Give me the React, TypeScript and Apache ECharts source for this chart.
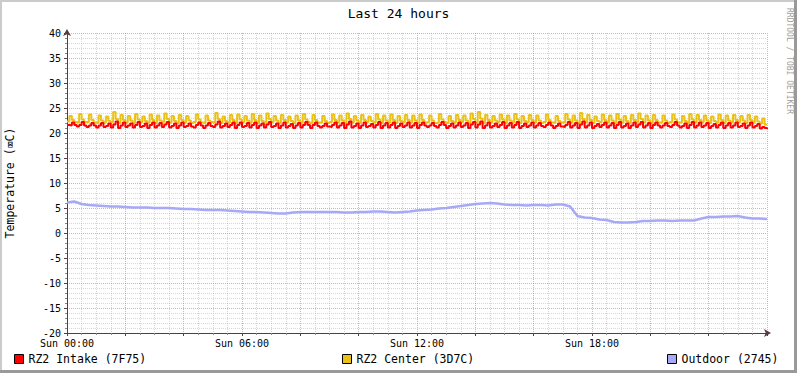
import React, { useEffect, useRef } from "react";
import * as echarts from "echarts";

const TITLE = "Last 24 hours";
const Y_NAME = "Temperature (\u2327C)";
const WATERMARK = "RRDTOOL / TOBI OETIKER";
const SERIES_NAMES = ["RZ2 Intake (7F75)", "RZ2 Center (3D7C)", "Outdoor (2745)"];
const SERIES_COLORS = ["#FF0000", "#EAC117", "#A8A8F8"];
const X_LABEL_HOURS = [0, 6, 12, 18];
const X_TICK_LABELS = ["Sun 00:00", "Sun 06:00", "Sun 12:00", "Sun 18:00"];
const Y_MIN = -20;
const Y_MAX = 40;
const Y_STEP = 5;
const X_MIN = 0;
const X_MAX = 24;
const FAST_STEP_H = 5 / 60;
const OUTDOOR_STEP_H = 0.25;

// RZ2 Intake, 5-minute samples
const intake = [
  21.6,21.5,22.1,21.6, 21.3,21.6,22.2,21.5, 21.2,21.5,22.0,21.5,
  21.1,21.5,22.0, 21.2,21.4,21.9, 21.1,21.7,22.3, 21.0,21.5,22.1,
  21.2,21.5,21.9, 21.1,21.6,22.2, 21.2,21.4,21.9, 21.0,21.6,22.1,
  21.1,21.5,22.0, 21.2,21.7,22.2, 21.1,21.4,21.9, 21.0,21.5,22.1,
  21.2,21.4,21.9,21.3, 21.1,21.6,22.1,21.5, 21.0,21.5,22.0,21.4,
  21.2,21.7,22.3, 21.1,21.4,21.9, 21.2,21.6,22.1, 21.0,21.6,22.1,
  21.2,21.4,22.0, 21.1,21.6,22.1, 21.0,21.5,21.9, 21.1,21.7,22.2,
  21.2,21.4,21.9, 21.0,21.5,22.1, 21.1,21.4,21.8, 21.0,21.5,22.0,
  21.1,21.6,22.2,21.6, 21.0,21.6,22.1,21.4, 21.1,21.4,21.9,21.3,
  21.2,21.6,22.1, 21.1,21.5,22.0, 21.0,21.7,22.3, 21.1,21.4,21.9,
  21.0,21.5,22.1, 21.2,21.4,21.8, 21.1,21.6,22.2, 21.0,21.5,22.0,
  21.1,21.6,22.1, 21.0,21.4,21.9, 21.2,21.5,22.1, 21.1,21.5,22.0,
  21.0,21.6,22.1,21.5, 21.2,21.5,22.0,21.4, 21.1,21.6,22.2,21.6,
  21.0,21.4,21.9, 21.1,21.5,22.1, 21.2,21.5,22.0, 21.0,21.7,22.2,
  21.1,21.7,22.3, 21.0,21.5,22.1, 21.1,21.4,21.9, 21.2,21.6,22.2,
  21.0,21.5,22.0, 21.1,21.6,22.2, 21.0,21.4,21.9, 21.2,21.5,22.1,
  21.1,21.5,22.0,21.4, 21.2,21.6,22.1,21.5, 21.0,21.4,21.9,21.3,
  21.2,21.6,22.2, 21.1,21.5,22.0, 21.0,21.7,22.3, 21.1,21.5,22.1,
  21.0,21.4,21.8, 21.2,21.6,22.1, 21.1,21.5,22.0, 21.0,21.6,22.2,
  21.1,21.4,21.9, 21.0,21.5,22.1, 21.2,21.7,22.2, 21.1,21.5,22.0,
  21.0,21.6,22.1,21.5, 21.1,21.5,22.0,21.4, 21.2,21.6,22.2,21.5,
  21.1,21.4,21.9, 21.0,21.6,22.2, 21.1,21.5,22.1, 21.2,21.5,22.0,
  21.0,21.4,21.8, 21.1,21.6,22.1, 21.0,21.5,22.0, 21.1,21.5,22.1,
  21.2,21.4,21.9, 21.0,21.5,22.1, 21.1,21.4,21.8, 20.9,21.2,21.0,
  20.8,
];

// RZ2 Center, 5-minute samples
const center = [
  22.3,23.4,22.6,22.2, 22.1,23.8,22.7,22.2, 22.2,23.7,22.6,22.1,
  22.0,23.5,22.5, 22.1,23.3,22.4, 22.2,24.2,22.8, 22.0,23.6,22.6,
  22.1,23.4,22.5, 22.0,23.8,22.7, 22.2,23.3,22.4, 22.1,23.7,22.6,
  22.0,23.5,22.5, 22.2,23.9,22.8, 22.1,23.4,22.4, 22.0,23.6,22.6,
  22.1,23.4,22.5,22.0, 22.2,23.7,22.7,22.1, 22.0,23.5,22.5,22.2,
  22.1,24.0,22.8, 22.0,23.3,22.4, 22.1,23.6,22.6, 22.0,23.7,22.7,
  22.2,23.4,22.5, 22.1,23.8,22.6, 22.0,23.5,22.4, 22.1,23.9,22.8,
  22.2,23.4,22.5, 22.0,23.6,22.6, 22.1,23.3,22.4, 22.0,23.5,22.5,
  22.1,23.8,22.7,22.2, 22.0,23.6,22.6,22.1, 22.1,23.4,22.4,22.0,
  22.2,23.7,22.6, 22.1,23.5,22.5, 22.0,23.9,22.8, 22.1,23.4,22.5,
  22.0,23.6,22.6, 22.2,23.3,22.4, 22.1,23.8,22.7, 22.0,23.5,22.5,
  22.1,23.7,22.6, 22.0,23.4,22.4, 22.2,23.6,22.6, 22.1,23.5,22.5,
  22.0,23.7,22.6,22.1, 22.2,23.5,22.5,22.0, 22.1,23.8,22.7,22.2,
  22.0,23.4,22.4, 22.1,23.6,22.6, 22.2,23.5,22.5, 22.0,23.9,22.8,
  22.1,24.2,22.9, 22.0,23.6,22.6, 22.1,23.4,22.5, 22.2,23.7,22.7,
  22.0,23.5,22.5, 22.1,23.8,22.7, 22.0,23.4,22.4, 22.2,23.6,22.6,
  22.1,23.5,22.5,22.0, 22.2,23.7,22.6,22.1, 22.0,23.4,22.4,22.1,
  22.2,23.8,22.7, 22.1,23.5,22.5, 22.0,24.0,22.8, 22.1,23.6,22.6,
  22.0,23.3,22.4, 22.2,23.7,22.6, 22.1,23.5,22.5, 22.0,23.8,22.7,
  22.1,23.4,22.4, 22.0,23.6,22.6, 22.2,23.9,22.8, 22.1,23.5,22.5,
  22.0,23.6,22.6,22.1, 22.1,23.5,22.5,22.0, 22.2,23.7,22.7,22.1,
  22.1,23.4,22.4, 22.0,23.8,22.7, 22.1,23.6,22.6, 22.2,23.5,22.5,
  22.0,23.3,22.4, 22.1,23.7,22.6, 22.0,23.5,22.5, 22.1,23.6,22.6,
  22.2,23.4,22.5, 22.0,23.6,22.6, 22.1,23.3,22.3, 21.9,22.9,21.7,
  21.6,
];

// Outdoor, 15-minute samples
const outdoor = [
  6.1, 6.3, 5.8, 5.6, 5.5, 5.4, 5.3, 5.3, 5.2, 5.1, 5.1, 5.1,
  5.0, 5.0, 5.0, 4.9, 4.8, 4.8, 4.7, 4.6, 4.6, 4.6, 4.5, 4.4,
  4.3, 4.2, 4.2, 4.1, 4.0, 3.9, 3.9, 4.1, 4.2, 4.2, 4.2, 4.2,
  4.2, 4.2, 4.1, 4.1, 4.2, 4.2, 4.3, 4.3, 4.2, 4.1, 4.2, 4.3,
  4.5, 4.6, 4.7, 4.9, 5.0, 5.2, 5.4, 5.6, 5.8, 5.9, 6.0, 5.9,
  5.7, 5.6, 5.6, 5.5, 5.6, 5.6, 5.5, 5.7, 5.7, 5.3, 3.4, 3.1,
  3.0, 2.7, 2.6, 2.2, 2.1, 2.1, 2.2, 2.4, 2.4, 2.5, 2.5, 2.4,
  2.5, 2.5, 2.5, 2.9, 3.2, 3.2, 3.3, 3.3, 3.4, 3.1, 2.9, 2.9,
  2.8,
];

const MONO = '"DejaVu Sans Mono", monospace';

export default function App() {
  const ref = useRef<HTMLDivElement>(null);

  useEffect(() => {
    if (!ref.current) return;
    const chart = echarts.init(ref.current, null, { renderer: "svg" });

    const toPairs = (arr: number[], step: number) => arr.map((v, i) => [i * step, v]);
    const axisColor = "#5a3a3a";

    const xLabel = (v: number) => {
      const idx = X_LABEL_HOURS.indexOf(v);
      return idx >= 0 ? X_TICK_LABELS[idx] : "";
    };

    const legendLefts = [14, 342, 667];

    chart.setOption({
      animation: false,
      backgroundColor: "#FFFFFF",
      title: {
        text: TITLE,
        left: "center",
        top: 7,
        padding: 0,
        textStyle: { fontFamily: MONO, fontSize: 13, fontWeight: "normal", color: "#000" },
      },
      grid: { left: 67, top: 33, width: 700, height: 300, containLabel: false },
      xAxis: {
        type: "value",
        min: X_MIN,
        max: X_MAX,
        interval: 2,
        axisLine: {
          onZero: false,
          lineStyle: { color: axisColor, width: 1 },
          symbol: ["none", "arrow"],
          symbolSize: [6, 7],
          symbolOffset: [0, 4],
        },
        axisTick: { show: true, length: 3, lineStyle: { color: axisColor } },
        minorTick: { show: true, splitNumber: 4, length: 2, lineStyle: { color: "#888" } },
        splitLine: { show: true, lineStyle: { color: "rgba(200,70,70,0.45)", type: [1, 1] } },
        minorSplitLine: { show: true, lineStyle: { color: "rgba(140,140,140,0.35)", type: [1, 1] } },
        axisLabel: {
          formatter: xLabel,
          fontFamily: MONO,
          fontSize: 10,
          lineHeight: 10,
          color: "#000",
          margin: 5,
          showMaxLabel: false,
        },
      },
      yAxis: {
        type: "value",
        min: Y_MIN,
        max: Y_MAX,
        interval: Y_STEP,
        axisLine: {
          show: true,
          onZero: false,
          lineStyle: { color: axisColor, width: 1 },
          symbol: ["none", "arrow"],
          symbolSize: [6, 7],
          symbolOffset: [0, 4],
        },
        axisTick: { show: true, length: 3, lineStyle: { color: axisColor } },
        minorTick: { show: true, splitNumber: 5, length: 2, lineStyle: { color: "#888" } },
        splitLine: { show: true, lineStyle: { color: "rgba(200,70,70,0.45)", type: [1, 1] } },
        minorSplitLine: { show: true, lineStyle: { color: "rgba(140,140,140,0.35)", type: [1, 1] } },
        axisLabel: { fontFamily: MONO, fontSize: 10, lineHeight: 9, color: "#000", margin: 6 },
      },
      legend: SERIES_NAMES.map((n, i) => ({
        data: [n],
        left: legendLefts[i],
        top: 353,
        padding: 0,
        icon: "rect",
        itemWidth: 9,
        itemHeight: 9,
        itemStyle: { borderColor: "#000", borderWidth: 1 },
        selectedMode: false,
        textStyle: { fontFamily: MONO, fontSize: 11.5, color: "#000" },
      })),
      graphic: [
        { type: "rect", shape: { x: 0, y: 0, width: 797, height: 2 }, style: { fill: "#CBCBCB" }, silent: true },
        { type: "rect", shape: { x: 0, y: 0, width: 2, height: 373 }, style: { fill: "#CBCBCB" }, silent: true },
        { type: "rect", shape: { x: 794, y: 0, width: 3, height: 373 }, style: { fill: "#999999" }, silent: true },
        { type: "rect", shape: { x: 0, y: 370, width: 797, height: 3 }, style: { fill: "#999999" }, silent: true },
        {
          type: "text",
          x: 10,
          y: 183,
          rotation: Math.PI / 2,
          style: { text: Y_NAME, font: `11.5px ${MONO}`, fill: "#000", textAlign: "center", textVerticalAlign: "middle" },
        },
        {
          type: "text",
          x: 789,
          y: 8,
          rotation: -Math.PI / 2,
          style: { text: WATERMARK, font: `8px ${MONO}`, fill: "#A0A0A0", textAlign: "left", textVerticalAlign: "middle" },
        },
      ],
      series: [
        {
          name: SERIES_NAMES[1],
          type: "line",
          data: toPairs(center, FAST_STEP_H),
          symbol: "none",
          step: "end",
          lineStyle: { color: SERIES_COLORS[1], width: 2 },
          itemStyle: { color: SERIES_COLORS[1] },
          z: 2,
        },
        {
          name: SERIES_NAMES[0],
          type: "line",
          data: toPairs(intake, FAST_STEP_H),
          symbol: "none",
          step: "end",
          lineStyle: { color: SERIES_COLORS[0], width: 2 },
          itemStyle: { color: SERIES_COLORS[0] },
          z: 3,
        },
        {
          name: SERIES_NAMES[2],
          type: "line",
          data: toPairs(outdoor, OUTDOOR_STEP_H),
          symbol: "none",
          lineStyle: { color: SERIES_COLORS[2], width: 2.5 },
          itemStyle: { color: SERIES_COLORS[2] },
          z: 3,
        },
      ],
    });

    return () => chart.dispose();
  }, []);

  return (
    <div
      ref={ref}
      style={{ position: "absolute", left: 0, top: 0, width: 797, height: 373 }}
    />
  );
}
